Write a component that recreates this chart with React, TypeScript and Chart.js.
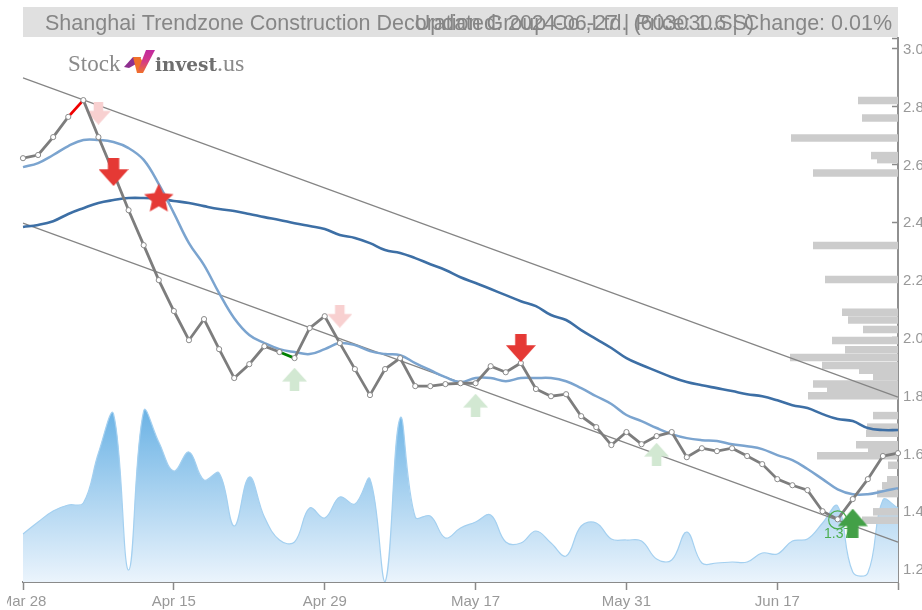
import React, { useEffect, useRef } from "react";
import { Chart, registerables } from "chart.js";

Chart.register(...registerables);

const titleLeft = "Shanghai Trendzone Construction Decoration Group Co.,Ltd. (603030.SS)";
const titleRight = "Updated: 2024-06-27 | Price: 1.6 | Change: 0.01%";

const dates = [
  "Mar 28","Mar 29","Apr 1","Apr 2","Apr 3","Apr 8","Apr 9","Apr 10","Apr 11","Apr 12",
  "Apr 15","Apr 16","Apr 17","Apr 18","Apr 19","Apr 22","Apr 23","Apr 24","Apr 25","Apr 26",
  "Apr 29","Apr 30","May 7","May 8","May 9","May 10","May 13","May 14","May 15","May 16",
  "May 17","May 20","May 21","May 22","May 23","May 24","May 27","May 28","May 29","May 30",
  "May 31","Jun 3","Jun 4","Jun 5","Jun 6","Jun 7","Jun 11","Jun 12","Jun 13","Jun 14",
  "Jun 17","Jun 18","Jun 19","Jun 20","Jun 21","Jun 24","Jun 25","Jun 26","Jun 27",
];

const price = [
  2.622,2.633,2.695,2.765,2.823,2.695,2.571,2.442,2.321,2.2,
  2.093,1.992,2.065,1.961,1.861,1.909,1.971,1.951,1.93,2.034,
  2.075,1.982,1.892,1.802,1.892,1.93,1.833,1.833,1.84,1.843,
  1.843,1.902,1.881,1.913,1.823,1.798,1.805,1.729,1.691,1.629,
  1.674,1.632,1.66,1.674,1.587,1.618,1.608,1.618,1.591,1.563,
  1.511,1.49,1.473,1.4,1.372,1.442,1.511,1.591,1.601,
];

const shortMa = [
  2.591,2.605,2.633,2.664,2.685,2.685,2.678,2.657,2.616,2.532,
  2.432,2.328,2.252,2.155,2.068,2.01,1.982,1.961,1.951,1.944,
  1.961,1.982,1.975,1.954,1.944,1.94,1.913,1.888,1.864,1.847,
  1.861,1.861,1.85,1.861,1.861,1.861,1.85,1.826,1.798,1.771,
  1.733,1.712,1.688,1.667,1.653,1.646,1.643,1.632,1.625,1.615,
  1.594,1.577,1.546,1.511,1.476,1.459,1.459,1.469,1.48,
];

const longMa = [
  2.384,2.391,2.404,2.429,2.449,2.467,2.477,2.484,2.484,2.481,
  2.474,2.467,2.456,2.446,2.439,2.429,2.418,2.408,2.397,2.387,
  2.377,2.356,2.346,2.328,2.304,2.294,2.276,2.255,2.235,2.21,
  2.19,2.169,2.148,2.127,2.11,2.079,2.062,2.027,1.996,1.965,
  1.93,1.906,1.885,1.864,1.847,1.836,1.826,1.816,1.805,1.798,
  1.784,1.767,1.757,1.736,1.719,1.712,1.688,1.681,1.681,
];

const volume = [
  48,60,71,77,79,129,168,12,171,140,
  111,130,102,109,56,105,65,42,40,74,
  64,85,78,103,0,164,65,66,44,54,
  60,67,40,39,51,39,26,56,59,43,
  42,41,23,22,50,19,19,20,20,29,
  28,41,43,59,76,10,9,82,74,
];

const upperTrend = [2.9, 1.795];
const lowerTrend = [2.397, 1.293];

const binPrices = [
  2.822,2.761,2.692,2.631,2.617,2.571,2.32,2.202,2.089,2.062,2.029,
  1.991,1.959,1.932,1.904,1.888,1.866,1.84,1.819,1.8,1.731,1.691,1.67,
  1.63,1.611,1.592,1.559,1.509,1.488,1.461,1.398,1.369,
];
const binVolumes = [
  40,36,107,27,21,85,85,73,56,50,35,
  66,53,108,76,39,25,85,71,90,25,31,32,
  42,30,81,10,11,16,21,25,36,
];

const yTickValues = [1.2, 1.4, 1.6, 1.8, 2.0, 2.2, 2.4, 2.6, 2.8, 3.0];
const yMin = 1.155;
const yMax = 3.038;

const sellStrong = [{ x: "Apr 9", y: 2.574 }, { x: "May 22", y: 1.965 }];
const sellWeak = [{ x: "Apr 8", y: 2.778 }, { x: "Apr 30", y: 2.075 }];
const buyWeak = [{ x: "Apr 25", y: 1.857 }, { x: "May 17", y: 1.767 }, { x: "Jun 4", y: 1.597 }];
const buyStrong = [{ x: "Jun 24", y: 1.359 }];
const starMark = [{ x: "Apr 12", y: 2.484 }];
const lowMark = { x: "Jun 21", y: 1.37 };

function arrow(w: number, h: number, up: boolean, color: string) {
  const c = document.createElement("canvas");
  c.width = w;
  c.height = h;
  const g = c.getContext("2d")!;
  g.fillStyle = color;
  if (!up) {
    g.translate(0, h);
    g.scale(1, -1);
  }
  const s = w * 0.19;
  const headH = h * 0.6;
  g.beginPath();
  g.moveTo(w / 2, 0);
  g.lineTo(w, headH);
  g.lineTo(w / 2 + s, headH);
  g.lineTo(w / 2 + s, h);
  g.lineTo(w / 2 - s, h);
  g.lineTo(w / 2 - s, headH);
  g.lineTo(0, headH);
  g.closePath();
  g.fill();
  return c;
}

function star(size: number, color: string) {
  const c = document.createElement("canvas");
  c.width = size;
  c.height = size;
  const g = c.getContext("2d")!;
  g.fillStyle = color;
  const R = size / 2;
  g.beginPath();
  for (let i = 0; i < 10; i++) {
    const r = i % 2 === 0 ? R : R * 0.47;
    const a = -Math.PI / 2 + (i * Math.PI) / 5;
    const px = R + r * Math.cos(a);
    const py = R + 1 + r * Math.sin(a);
    if (i === 0) g.moveTo(px, py);
    else g.lineTo(px, py);
  }
  g.closePath();
  g.fill();
  return c;
}

const framePlugin = {
  id: "frame",
  beforeDatasetsDraw(chart: any) {
    const { ctx, chartArea: a } = chart;
    ctx.save();
    ctx.fillStyle = "#e0e0e0";
    ctx.fillRect(a.left, 0, a.right - a.left, a.top - 1);
    ctx.fillStyle = "#868686";
    ctx.font = '21.5px "Liberation Sans"';
    ctx.textBaseline = "middle";
    ctx.textAlign = "left";
    ctx.fillText(titleLeft, a.left + 22, 17);
    ctx.textAlign = "right";
    ctx.fillText(titleRight, a.right - 6, 17);

    const ox = -7;
    const oy = -7;
    ctx.textAlign = "left";
    ctx.textBaseline = "alphabetic";
    ctx.fillStyle = "#8a8a8a";
    ctx.font = '23px "Liberation Serif"';
    ctx.fillText("Stock", 68 + ox, 71 + oy);
    ctx.fillStyle = "#6e6e6e";
    ctx.font = 'bold 18.5px "DejaVu Serif"';
    ctx.fillText("invest", 155 + ox, 71 + oy);
    const wi = ctx.measureText("invest").width;
    ctx.fillStyle = "#8a8a8a";
    ctx.font = '24px "Liberation Serif"';
    ctx.fillText(".us", 155 + wi + ox, 71 + oy);

    const poly = (pts: number[][], fill: any) => {
      ctx.fillStyle = fill;
      ctx.beginPath();
      pts.forEach((p, i) =>
        i ? ctx.lineTo(p[0] + ox, p[1] + oy) : ctx.moveTo(p[0] + ox, p[1] + oy)
      );
      ctx.closePath();
      ctx.fill();
    };
    poly([[124, 67], [133, 57], [141, 57], [136, 64], [129, 68]], "#8e2f8f");
    poly([[133, 57], [140, 57], [145, 66], [141, 73], [137, 73]], "#f0702a");
    const grad = ctx.createLinearGradient(0, 73 + oy, 0, 50 + oy);
    grad.addColorStop(0, "#f0702a");
    grad.addColorStop(0.5, "#d43a86");
    grad.addColorStop(1, "#c02aa0");
    poly([[137, 73], [146, 50], [155, 50], [143, 73]], grad);
    ctx.restore();
  },
  beforeDatasetDraw(chart: any, args: any) {
    if (chart.data.datasets[args.index].label !== "buyStrong") return;
    const { ctx, scales } = chart;
    ctx.save();
    ctx.fillStyle = "#4caf50";
    ctx.font = '14px "Liberation Sans"';
    ctx.textAlign = "center";
    ctx.textBaseline = "middle";
    ctx.fillText("1.37", scales.x.getPixelForValue(dates.indexOf(lowMark.x)), scales.y.getPixelForValue(lowMark.y) + 14);
    ctx.restore();
  },
};

const marker = (label: string, data: any[], style: any) => ({
  label,
  data,
  pointStyle: style,
  pointRadius: 10,
  showLine: false,
  borderWidth: 0,
});

export default function App() {
  const ref = useRef<HTMLCanvasElement>(null);

  useEffect(() => {
    const redStrong = "#e53935";
    const datasets: any[] = [
      marker("buyStrong", buyStrong, arrow(30, 29, true, "#43a047")),
      marker("sellStrong", sellStrong, arrow(30, 28, false, redStrong)),
      marker("star", starMark, star(31, redStrong)),
      {
        label: "low",
        data: [lowMark],
        pointRadius: 9,
        pointBackgroundColor: "rgba(0,0,0,0)",
        pointBorderColor: "#4caf50",
        pointBorderWidth: 1.2,
        showLine: false,
      },
      {
        label: "price",
        data: price,
        borderColor: "#7d7d7d",
        borderWidth: 2.8,
        tension: 0,
        pointRadius: 2.6,
        pointBackgroundColor: "#ffffff",
        pointBorderColor: "#8a8a8a",
        pointBorderWidth: 1,
        segment: {
          borderColor: (c: any) =>
            c.p0DataIndex === 3 ? "#f00000" : c.p0DataIndex === 17 ? "#008000" : undefined,
        },
        clip: false,
      },
      marker("sellWeak", sellWeak, arrow(25, 23, false, "#f8d0d0")),
      marker("buyWeak", buyWeak, arrow(25, 23, true, "#d2e8d2")),
      { label: "shortMa", data: shortMa, borderColor: "#7ba4cf", borderWidth: 2.5, tension: 0.4, pointRadius: 0 },
      { label: "longMa", data: longMa, borderColor: "#3d6fa5", borderWidth: 2.6, tension: 0.4, pointRadius: 0 },
      {
        label: "upper",
        data: [{ x: dates[0], y: upperTrend[0] }, { x: dates[58], y: upperTrend[1] }],
        borderColor: "#858585",
        borderWidth: 1.2,
        pointRadius: 0,
      },
      {
        label: "lower",
        data: [{ x: dates[0], y: lowerTrend[0] }, { x: dates[58], y: lowerTrend[1] }],
        borderColor: "#858585",
        borderWidth: 1.2,
        pointRadius: 0,
      },
      ...binPrices.map((p, i) => ({
        label: "bin" + i,
        xAxisID: "xv",
        data: [{ x: 0, y: p }, { x: binVolumes[i], y: p }],
        borderColor: "#cccccc",
        borderWidth: 7.5,
        pointRadius: 0,
      })),
      {
        label: "volume",
        yAxisID: "yv",
        data: volume,
        borderColor: "#a4d0f0",
        borderWidth: 1.2,
        tension: 0.4,
        pointRadius: 0,
        fill: "origin",
        backgroundColor: (c: any) => {
          const a = c.chart.chartArea;
          if (!a) return "#bcdcf4";
          const g = c.chart.ctx.createLinearGradient(0, a.bottom - 171, 0, a.bottom);
          g.addColorStop(0, "#6cb3e5");
          g.addColorStop(1, "#ebf4fc");
          return g;
        },
      },
    ];

    const chart = new Chart(ref.current!, {
      type: "line",
      data: { labels: dates, datasets },
      plugins: [framePlugin],
      options: {
        responsive: false,
        animation: false,
        events: [],
        layout: { padding: { left: 16, top: 31, right: 0, bottom: 0 } },
        plugins: { legend: { display: false }, tooltip: { enabled: false }, title: { display: false } },
        scales: {
          x: {
            type: "category",
            grid: { drawOnChartArea: false, tickLength: 8, tickColor: "#8a8a8a", tickWidth: 1.5 },
            border: { color: "#8a8a8a", width: 2 },
            ticks: {
              autoSkip: false,
              maxRotation: 0,
              padding: 3,
              color: "#999999",
              font: { family: "Liberation Sans", size: 15 },
              callback: (v: any) => (v === 58 ? "" : dates[v]),
            },
            afterBuildTicks: (s: any) => {
              s.ticks = s.ticks.filter((t: any) => t.value % 10 === 0 || t.value === 58);
            },
            afterFit: (s: any) => {
              s.height = 28;
              s.paddingLeft = 0;
              s.paddingRight = 0;
            },
          },
          xv: { type: "linear", display: false, reverse: true, min: 0, max: 875 },
          y: {
            position: "right",
            min: yMin,
            max: yMax,
            grid: { drawOnChartArea: false, tickLength: -6, tickColor: "#8a8a8a", tickWidth: 1.5 },
            border: { color: "#909090", width: 2 },
            ticks: {
              padding: 11,
              labelOffset: 1,
              color: "#999999",
              font: { family: "Liberation Sans", size: 15 },
              callback: (v: any) => (v === yMax ? "" : Number(v).toFixed(1)),
            },
            afterBuildTicks: (s: any) => {
              s.ticks = [...yTickValues, yMax].map((value) => ({ value }));
            },
            afterFit: (s: any) => {
              s.width = 24;
              s.paddingTop = 0;
              s.paddingBottom = 0;
            },
          },
          yv: { type: "linear", display: false, min: 0, max: 544 },
        },
      } as any,
    });
    return () => chart.destroy();
  }, []);

  return (
    <div style={{ position: "absolute", left: 7, top: 7, width: 915, height: 603, overflow: "hidden" }}>
      <canvas ref={ref} width={915} height={603} style={{ display: "block" }} />
    </div>
  );
}
